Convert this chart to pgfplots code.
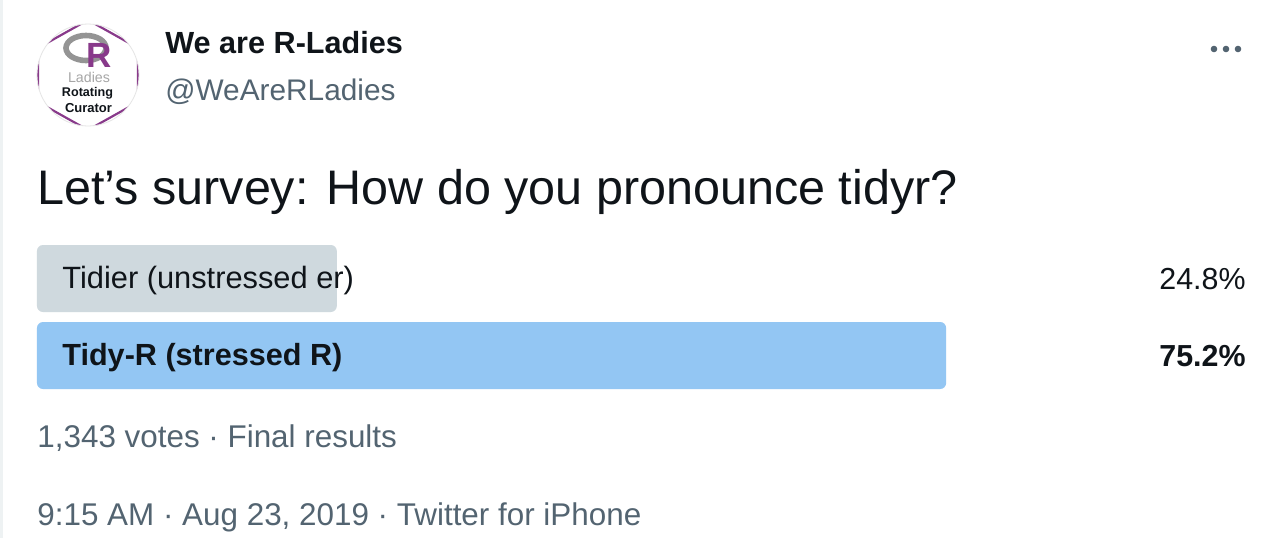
\documentclass[border=0pt]{standalone}
\usepackage{fontspec}
\setmainfont{Liberation Sans}
\usepackage{pgfplots}
\pgfplotsset{compat=1.18}
\definecolor{twdark}{HTML}{0F1419}
\definecolor{twgray}{HTML}{536471}
\definecolor{bargray}{HTML}{CFD9DE}
\definecolor{barblue}{HTML}{93C6F3}
\definecolor{rpurple}{HTML}{88398A}
\definecolor{edge}{HTML}{EEF2F3}
\newcommand{\fs}[1]{\fontsize{#1pt}{#1pt}\selectfont}
\begin{document}
\begin{tikzpicture}
\fill[white] (0,0) rectangle (641pt,269pt);
\begin{axis}[
  scale only axis, width=641pt, height=269pt,
  xmin=-3.060, xmax=102.98, ymin=0, ymax=538,
  hide axis, clip=false,
]
\addplot[xbar, bar width=67, fill=bargray, draw=none, rounded corners=3pt] coordinates {(24.8,259.5)};
\addplot[xbar, bar width=67, fill=barblue, draw=none, rounded corners=3pt] coordinates {(75.2,182.5)};
\end{axis}
\begin{scope}[x=0.5pt,y=-0.5pt,yshift=269pt]
  % left edge
  \fill[edge] (0,0) rectangle (3,538);
  % logo
  \begin{scope}
    \clip (88,75) circle (51);
    \fill[white] (88,75) circle (51);
    \draw[rpurple, line width=1.1pt] (88,20) -- (38,48) -- (38,102) -- (88,130) -- (138,102) -- (138,48) -- cycle;
  \end{scope}
  \draw[black!10, line width=0.4pt] (88,75) circle (51);
  \draw[black!42, line width=2.8pt] (86,48) ellipse (20 and 12.5);
  \node[anchor=base, inner sep=0, text=rpurple] at (99.5,67) {\fs{17.5}\bfseries R};
  \node[anchor=base, inner sep=0, text=black!35] at (89,82) {\fs{7.1}Ladies};
  \node[anchor=base, inner sep=0, text=twdark] at (87.5,96) {\fs{6.3}\bfseries Rotating};
  \node[anchor=base, inner sep=0, text=twdark] at (88.5,112) {\fs{6.5}\bfseries Curator};
  % header
  \node[anchor=base west, inner sep=0, text=twdark] at (165,53) {\fs{15.3}\bfseries We are R-Ladies};
  \node[anchor=base west, inner sep=0, text=twgray] at (165,100) {\fs{14.9}@WeAreRLadies};
  \foreach \d in {1214,1226,1238} \fill[twgray] (\d,49) circle (3.3);
  % title
  \node[anchor=base west, inner sep=0, text=twdark] at (37,204) {\fs{24.25}Let’s survey: How do you pronounce tidyr?};
  % options
  \node[anchor=base west, inner sep=0, text=twdark] at (62,288) {\fs{15.4}Tidier (unstressed er)};
  \node[anchor=base west, inner sep=0, text=twdark] at (62,365) {\fs{15.3}\bfseries Tidy-R (stressed R)};
  \node[anchor=base east, inner sep=0, text=twdark] at (1246,289) {\fs{15.2}24.8\%};
  \node[anchor=base east, inner sep=0, text=twdark] at (1246,366) {\fs{15.2}\bfseries 75.2\%};
  % footer
  \node[anchor=base west, inner sep=0, text=twgray] at (37,447) {\fs{15.7}1,343 votes · Final results};
  \node[anchor=base west, inner sep=0, text=twgray] at (37,525) {\fs{15.7}9:15 AM · Aug 23, 2019 · Twitter for iPhone};
\end{scope}
\end{tikzpicture}
\end{document}
